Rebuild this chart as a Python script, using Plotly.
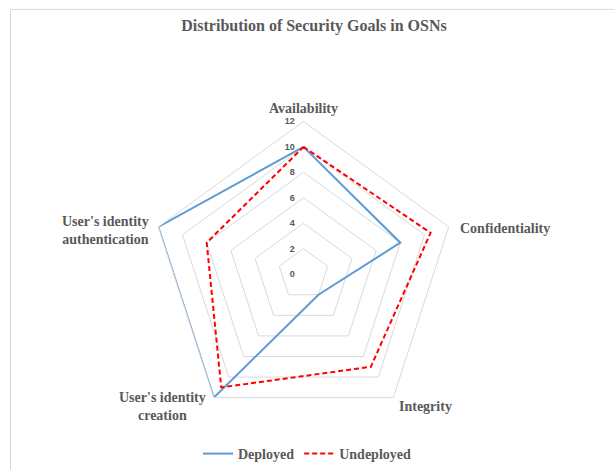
import plotly.graph_objects as go

# Security goals (clockwise from the top) and counts per deployment state
goals = ["Availability", "Confidentiality", "Integrity",
         "User's identity creation", "User's identity authentication"]
deployed = [10, 8, 2, 12, 12]
undeployed = [10, 10.5, 9, 11, 8]
radial_ticks = [0, 2, 4, 6, 8, 10, 12]

W, H = 614, 470
GRAY = "#595959"
GRID = "#d9d9d9"

# polar area: centre and outer radius in pixels
cx, cy, R = 303.5, 276.5, 154


def closed(vals):
    return vals + vals[:1]


fig = go.Figure()
fig.add_trace(go.Scatterpolar(
    r=closed(deployed), theta=closed(goals), mode="lines", name="Deployed",
    line=dict(color="#5B9BD5", width=2),
))
fig.add_trace(go.Scatterpolar(
    r=closed(undeployed), theta=closed(goals), mode="lines", name="Undeployed",
    line=dict(color="#FF0000", width=2, dash="5px,3px"),
))

label_font = dict(family="Liberation Serif", size=14, color=GRAY, weight="bold")

# category labels around the pentagon
labels = [
    ("Availability", 303, 109, "center"),
    ("Confidentiality", 458, 230, "left"),
    ("Integrity", 425, 410, "center"),
    ("User's identity<br>creation", 162, 410, "center"),
    ("User's identity<br>authentication", 105, 232, "center"),
]
annotations = [
    dict(text=t, x=x / W, y=1 - y / H, xref="paper", yref="paper",
         xanchor=a, yanchor="middle", showarrow=False, font=label_font)
    for t, x, y, a in labels
]

fig.update_layout(
    width=W, height=H,
    margin=dict(l=0, r=0, t=0, b=0),
    paper_bgcolor="white",
    plot_bgcolor="white",
    title=dict(text="Distribution of Security Goals in OSNs",
               x=314 / W, xanchor="center", y=1 - 25 / H, yanchor="middle",
               font=dict(family="Liberation Serif", size=16, color=GRAY,
                         weight="bold")),
    polar=dict(
        domain=dict(x=[(cx - R) / W, (cx + R) / W],
                    y=[1 - (cy + R) / H, 1 - (cy - R) / H]),
        gridshape="linear",
        bgcolor="white",
        radialaxis=dict(
            range=[0, 12], tickvals=radial_ticks, angle=90, tickangle=90,
            side="counterclockwise", showline=False,
            ticks="outside", ticklen=5, tickcolor="rgba(0,0,0,0)",
            gridcolor=GRID, gridwidth=1,
            tickfont=dict(family="Liberation Sans", size=9, color=GRAY,
                          weight="bold"),
        ),
        angularaxis=dict(
            rotation=90, direction="clockwise", showgrid=False,
            showline=True, linecolor=GRID, linewidth=1,
            showticklabels=False, ticks="",
        ),
    ),
    legend=dict(orientation="h", x=0.5, xanchor="center", y=1 - 458 / H,
                yanchor="middle", font=dict(family="Liberation Serif", size=14,
                                            color=GRAY, weight="bold"),
                itemwidth=30),
    annotations=annotations,
    shapes=[
        # chart border (top and left edges visible)
        dict(type="rect", xref="paper", yref="paper",
             x0=10.5 / W, y0=-0.05, x1=1.05, y1=1 - 9.5 / H,
             line=dict(color=GRID, width=1)),
    ],
)

fig.write_html("out.html")
